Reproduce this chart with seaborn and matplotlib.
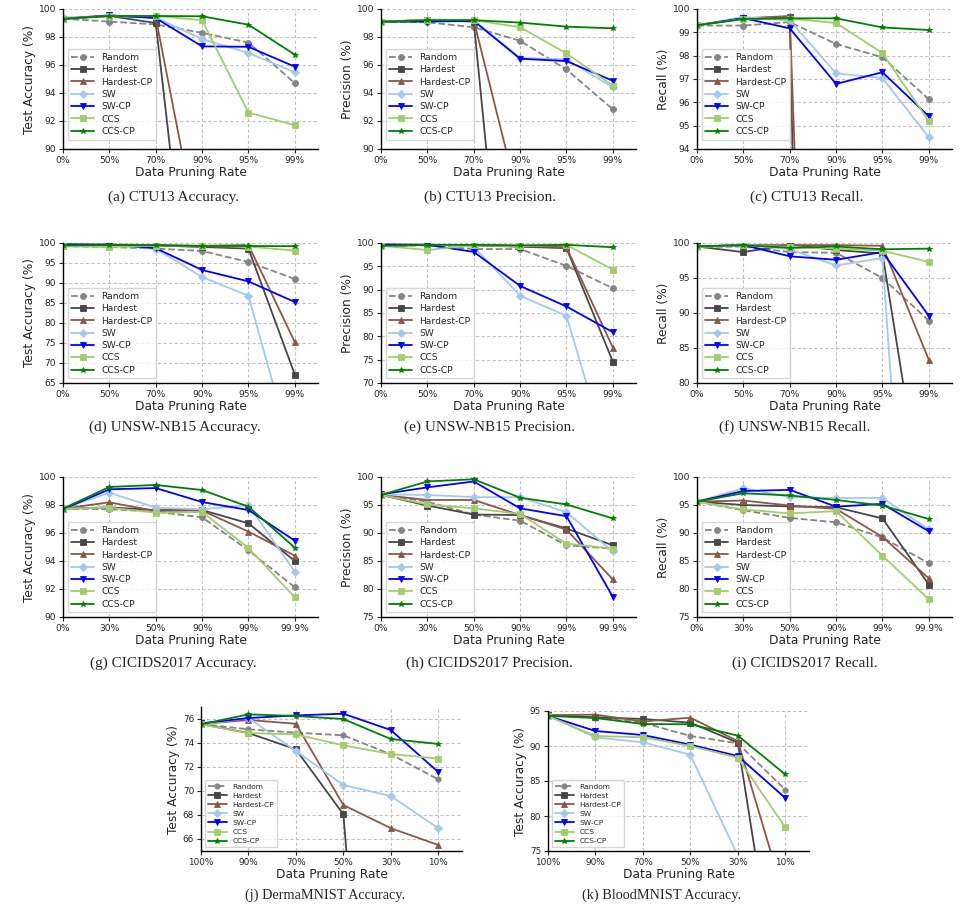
import numpy as np
import pandas as pd
import matplotlib
matplotlib.use("Agg")
import matplotlib.pyplot as plt
import seaborn as sns

# ---------------- data ----------------
METHODS = ["Random", "Hardest", "Hardest-CP", "SW", "SW-CP", "CCS", "CCS-CP"]

X_CTU = ["0%", "50%", "70%", "90%", "95%", "99%"]
X_UNSW = ["0%", "50%", "70%", "90%", "95%", "99%"]
X_CIC = ["0%", "30%", "50%", "90%", "99%", "99.9%"]
X_MED = ["100%", "90%", "70%", "50%", "30%", "10%"]

# (a) CTU13 Accuracy
a_random = [99.3, 99.1, 98.9, 98.3, 97.6, 94.7]
a_hardest = [99.3, 99.5, 99.0, 70.0, 60.0, 55.0]
a_hardest_cp = [99.3, 99.5, 99.4, 82.4, 75.0, 70.0]
a_sw = [99.4, 99.5, 99.4, 97.85, 96.86, 95.48]
a_sw_cp = [99.3, 99.55, 99.35, 97.33, 97.3, 95.88]
a_ccs = [99.3, 99.5, 99.5, 99.2, 92.6, 91.7]
a_ccs_cp = [99.3, 99.5, 99.5, 99.48, 98.88, 96.74]

# (b) CTU13 Precision
b_random = [99.1, 99.05, 98.7, 97.73, 95.68, 92.84]
b_hardest = [99.1, 99.2, 99.1, 65.5, 60.0, 55.0]
b_hardest_cp = [99.1, 99.2, 99.2, 85.9, 80.0, 75.0]
b_sw = [99.1, 99.2, 99.2, 96.5, 96.4, 94.4]
b_sw_cp = [99.1, 99.1, 99.15, 96.45, 96.28, 94.87]
b_ccs = [99.1, 99.25, 99.2, 98.7, 96.83, 94.53]
b_ccs_cp = [99.1, 99.2, 99.2, 99.03, 98.74, 98.62]

# (c) CTU13 Recall
c_random = [99.29, 99.29, 99.44, 98.5, 97.93, 96.13]
c_hardest = [99.3, 99.6, 99.65, 5.0, 5.0, 5.0]
c_hardest_cp = [99.3, 99.6, 99.7, 45.0, 40.0, 35.0]
c_sw = [99.3, 99.66, 99.51, 97.24, 97.04, 94.5]
c_sw_cp = [99.3, 99.61, 99.17, 96.79, 97.29, 95.4]
c_ccs = [99.3, 99.57, 99.59, 99.4, 98.11, 95.19]
c_ccs_cp = [99.3, 99.57, 99.6, 99.6, 99.21, 99.1]

# (d) UNSW-NB15 Accuracy
d_random = [99.2, 99.0, 98.6, 98.0, 95.25, 91.0]
d_hardest = [99.3, 99.5, 99.4, 99.0, 98.6, 67.1]
d_hardest_cp = [99.3, 99.6, 99.5, 99.3, 99.5, 75.2]
d_sw = [99.6, 99.5, 98.6, 91.5, 86.8, 45.3]
d_sw_cp = [99.7, 99.6, 98.7, 93.25, 90.4, 85.25]
d_ccs = [99.2, 99.0, 99.3, 99.25, 99.1, 98.1]
d_ccs_cp = [99.4, 99.5, 99.4, 99.25, 99.25, 99.2]

# (e) UNSW-NB15 Precision
e_random = [99.4, 99.5, 98.7, 98.7, 95.1, 90.3]
e_hardest = [99.4, 99.6, 99.5, 99.2, 98.9, 74.6]
e_hardest_cp = [99.4, 99.6, 99.5, 99.35, 99.1, 77.6]
e_sw = [99.5, 99.8, 99.2, 88.7, 84.4, 50.9]
e_sw_cp = [99.7, 99.6, 98.1, 90.8, 86.4, 80.9]
e_ccs = [99.4, 98.5, 99.5, 99.35, 99.6, 94.3]
e_ccs_cp = [99.4, 99.6, 99.6, 99.5, 99.6, 99.1]

# (f) UNSW-NB15 Recall
f_random = [99.4, 99.5, 98.7, 98.6, 95.0, 88.9]
f_hardest = [99.5, 98.7, 99.76, 99.0, 98.5, 57.0]
f_hardest_cp = [99.5, 99.7, 99.7, 99.7, 99.6, 83.3]
f_sw = [99.5, 99.8, 99.1, 96.8, 97.85, 3.0]
f_sw_cp = [99.5, 99.7, 98.1, 97.6, 98.7, 89.6]
f_ccs = [99.4, 99.7, 99.4, 99.2, 98.9, 97.3]
f_ccs_cp = [99.5, 99.7, 99.3, 99.5, 99.1, 99.2]

# (g) CICIDS2017 Accuracy
g_random = [97.74, 97.7, 97.52, 97.12, 94.76, 92.12]
g_hardest = [97.74, 97.83, 97.64, 97.64, 96.69, 94.0]
g_hardest_cp = [97.74, 98.19, 97.57, 97.6, 96.1, 94.38]
g_sw = [97.74, 98.88, 97.81, 97.69, 98.0, 93.24]
g_sw_cp = [97.7, 99.12, 99.21, 98.21, 97.64, 95.45]
g_ccs = [97.74, 97.81, 97.45, 97.5, 94.93, 91.4]
g_ccs_cp = [97.74, 99.29, 99.43, 99.07, 97.88, 94.95]

# (h) CICIDS2017 Precision
h_random = [96.8, 95.6, 93.3, 92.2, 87.8, 87.2]
h_hardest = [96.8, 94.9, 93.3, 93.2, 90.8, 87.8]
h_hardest_cp = [96.8, 95.9, 95.9, 93.2, 90.6, 81.7]
h_sw = [96.9, 96.8, 96.4, 96.4, 93.7, 86.7]
h_sw_cp = [96.9, 98.15, 99.2, 94.4, 93.0, 78.6]
h_ccs = [96.8, 95.1, 94.4, 93.4, 88.1, 87.2]
h_ccs_cp = [96.8, 99.2, 99.6, 96.3, 95.1, 92.6]

# (i) CICIDS2017 Recall
i_random = [95.6, 94.05, 92.7, 91.9, 89.2, 84.6]
i_hardest = [95.6, 95.0, 94.75, 94.6, 92.6, 80.8]
i_hardest_cp = [95.6, 95.8, 94.9, 94.3, 89.3, 81.9]
i_sw = [95.6, 98.0, 96.4, 96.25, 96.25, 90.65]
i_sw_cp = [95.6, 97.5, 97.7, 94.7, 95.2, 90.3]
i_ccs = [95.6, 94.2, 93.5, 93.9, 85.95, 78.15]
i_ccs_cp = [95.6, 97.1, 96.7, 95.9, 94.9, 92.5]

# (j) DermaMNIST Accuracy
j_random = [75.58, 75.14, 74.86, 74.64, 73.06, 70.97]
j_hardest = [75.58, 74.83, 73.47, 68.06, 20.0, 20.0]
j_hardest_cp = [75.58, 75.92, 75.6, 68.83, 66.9, 65.5]
j_sw = [75.55, 76.08, 73.33, 70.5, 69.58, 66.9]
j_sw_cp = [75.64, 76.08, 76.3, 76.44, 75.08, 71.58]
j_ccs = [75.55, 74.83, 74.72, 73.8, 73.08, 72.7]
j_ccs_cp = [75.55, 76.39, 76.25, 76.0, 74.33, 73.92]

# (k) BloodMNIST Accuracy
k_random = [94.4, 94.05, 93.33, 91.43, 90.38, 83.76]
k_hardest = [94.4, 94.1, 93.86, 93.33, 90.48, 47.5]
k_hardest_cp = [94.4, 94.48, 93.5, 94.05, 90.7, 67.9]
k_sw = [94.3, 91.24, 90.52, 88.76, 74.3, 60.0]
k_sw_cp = [94.3, 92.14, 91.57, 90.19, 88.57, 82.57]
k_ccs = [94.3, 91.43, 91.24, 90.0, 88.33, 78.38]
k_ccs_cp = [94.3, 94.0, 93.14, 93.1, 91.48, 85.95]

# ---------------- style ----------------
PALETTE = {"Random": "#858585", "Hardest": "#474747", "Hardest-CP": "#8c564b",
           "SW": "#a4c8ee", "SW-CP": "#0000ff", "CCS": "#a3cd6c", "CCS-CP": "#008000"}
MARKERS = {"Random": "o", "Hardest": "s", "Hardest-CP": "^", "SW": "D",
           "SW-CP": "v", "CCS": "s", "CCS-CP": "*"}
DASHES = {"Random": (3.7, 1.6), "Hardest": "", "Hardest-CP": "", "SW": "",
          "SW-CP": "", "CCS": "", "CCS-CP": ""}

sns.set_theme(style="ticks")
plt.rcParams["font.family"] = ["DejaVu Sans"]

W, H = 964, 919
fig = plt.figure(figsize=(W / 100, H / 100), dpi=100)


def px_axes(left, top, right, bottom):
    return fig.add_axes([left / W, 1 - bottom / H, (right - left) / W, (bottom - top) / H])


def draw(ax, xlabels, series, ylim, yticks, ylabel, leg_fs, leg_y, tick_fs, ms, lsp):
    rows = []
    for m, vals in zip(METHODS, series):
        for i, v in enumerate(vals):
            rows.append({"pos": i, "value": v, "method": m})
    df = pd.DataFrame(rows)
    sns.lineplot(data=df, x="pos", y="value", hue="method", style="method",
                 hue_order=METHODS, style_order=METHODS, palette=PALETTE,
                 markers=MARKERS, dashes=DASHES, linewidth=1.3, markersize=ms,
                 markeredgewidth=0.6, ax=ax, sort=False, estimator=None)
    for ln in ax.lines:
        ln.set_markeredgecolor(ln.get_color())
    ax.set_xlim(0, 5.5)
    ax.set_ylim(*ylim)
    ax.set_yticks(yticks)
    ax.set_xticks(range(len(xlabels)))
    ax.set_xticklabels(xlabels)
    ax.tick_params(labelsize=tick_fs, length=3, width=0.8, pad=2)
    ax.grid(True, linestyle=(0, (3, 2)), color="#c2c2c2", linewidth=0.8)
    ax.set_axisbelow(True)
    sns.despine(ax=ax)
    for s in ("left", "bottom"):
        ax.spines[s].set_color("black")
        ax.spines[s].set_linewidth(1.0)
    ax.set_xlabel("Data Pruning Rate", fontsize=8.8, labelpad=1)
    ax.set_ylabel(ylabel, fontsize=8.8, labelpad=2)
    sns.move_legend(ax, "lower left", bbox_to_anchor=(0.0, leg_y), title=None,
                    fontsize=leg_fs, handlelength=2.5, labelspacing=lsp,
                    borderaxespad=0.5, frameon=True, handletextpad=0.8)
    for h in ax.get_legend().legend_handles:
        h.set_markeredgecolor(h.get_color())


def caption(text, cx, cy, fs):
    fig.text(cx / W, 1 - cy / H, text, ha="center", va="center",
             fontsize=fs, family="Liberation Serif")


ACC = "Test Accuracy (%)"
PRE = "Precision (%)"
REC = "Recall (%)"

t10 = np.arange(90, 101, 2)
panels = [
    # row 1
    ((63, 9, 318, 149), X_CTU, [a_random, a_hardest, a_hardest_cp, a_sw, a_sw_cp, a_ccs, a_ccs_cp],
     (90, 100), t10, ACC, 0.035, "(a) CTU13 Accuracy.", 173, 197),
    ((381, 9, 636, 149), X_CTU, [b_random, b_hardest, b_hardest_cp, b_sw, b_sw_cp, b_ccs, b_ccs_cp],
     (90, 100), t10, PRE, 0.035, "(b) CTU13 Precision.", 490, 197),
    ((697, 9, 952, 149), X_CTU, [c_random, c_hardest, c_hardest_cp, c_sw, c_sw_cp, c_ccs, c_ccs_cp],
     (94, 100), np.arange(94, 101, 1), REC, 0.035, "(c) CTU13 Recall.", 807, 197),
    # row 2
    ((63, 243, 318, 383), X_UNSW, [d_random, d_hardest, d_hardest_cp, d_sw, d_sw_cp, d_ccs, d_ccs_cp],
     (65, 100), np.arange(65, 101, 5), ACC, 0.0, "(d) UNSW-NB15 Accuracy.", 175, 427),
    ((381, 243, 636, 383), X_UNSW, [e_random, e_hardest, e_hardest_cp, e_sw, e_sw_cp, e_ccs, e_ccs_cp],
     (70, 100), np.arange(70, 101, 5), PRE, 0.0, "(e) UNSW-NB15 Precision.", 490, 427),
    ((697, 243, 952, 383), X_UNSW, [f_random, f_hardest, f_hardest_cp, f_sw, f_sw_cp, f_ccs, f_ccs_cp],
     (80, 100), np.arange(80, 101, 5), REC, 0.0, "(f) UNSW-NB15 Recall.", 795, 427),
    # row 3
    ((63, 477, 318, 617), X_CIC, [g_random, g_hardest, g_hardest_cp, g_sw, g_sw_cp, g_ccs, g_ccs_cp],
     (90, 100), t10, ACC, 0.0, "(g) CICIDS2017 Accuracy.", 173, 663),
    ((381, 477, 636, 617), X_CIC, [h_random, h_hardest, h_hardest_cp, h_sw, h_sw_cp, h_ccs, h_ccs_cp],
     (75, 100), np.arange(75, 101, 5), PRE, 0.0, "(h) CICIDS2017 Precision.", 489, 663),
    ((697, 477, 952, 617), X_CIC, [i_random, i_hardest, i_hardest_cp, i_sw, i_sw_cp, i_ccs, i_ccs_cp],
     (75, 100), np.arange(75, 101, 5), REC, 0.0, "(i) CICIDS2017 Recall.", 805, 663),
]

for box, xl, series, ylim, yt, yl, legy, cap, cx, cy in panels:
    ax = px_axes(*box)
    draw(ax, xl, series, ylim, yt, yl, 6.6, legy, 6.6, 4.3, 0.36)
    caption(cap, cx, cy, 11)

# row 4
axj = px_axes(201, 707, 462, 851)
draw(axj, X_MED, [j_random, j_hardest, j_hardest_cp, j_sw, j_sw_cp, j_ccs, j_ccs_cp],
     (65, 77), np.arange(66, 77, 2), ACC, 5.4, 0.0, 6.4, 3.8, 0.38)
caption("(j) DermaMNIST Accuracy.", 325, 895, 10.3)

axk = px_axes(548, 711, 809, 851)
draw(axk, X_MED, [k_random, k_hardest, k_hardest_cp, k_sw, k_sw_cp, k_ccs, k_ccs_cp],
     (75, 95), np.arange(75, 96, 5), ACC, 5.4, 0.0, 6.4, 3.8, 0.38)
caption("(k) BloodMNIST Accuracy.", 662, 895, 10.3)

fig.savefig("out.png", dpi=100)
